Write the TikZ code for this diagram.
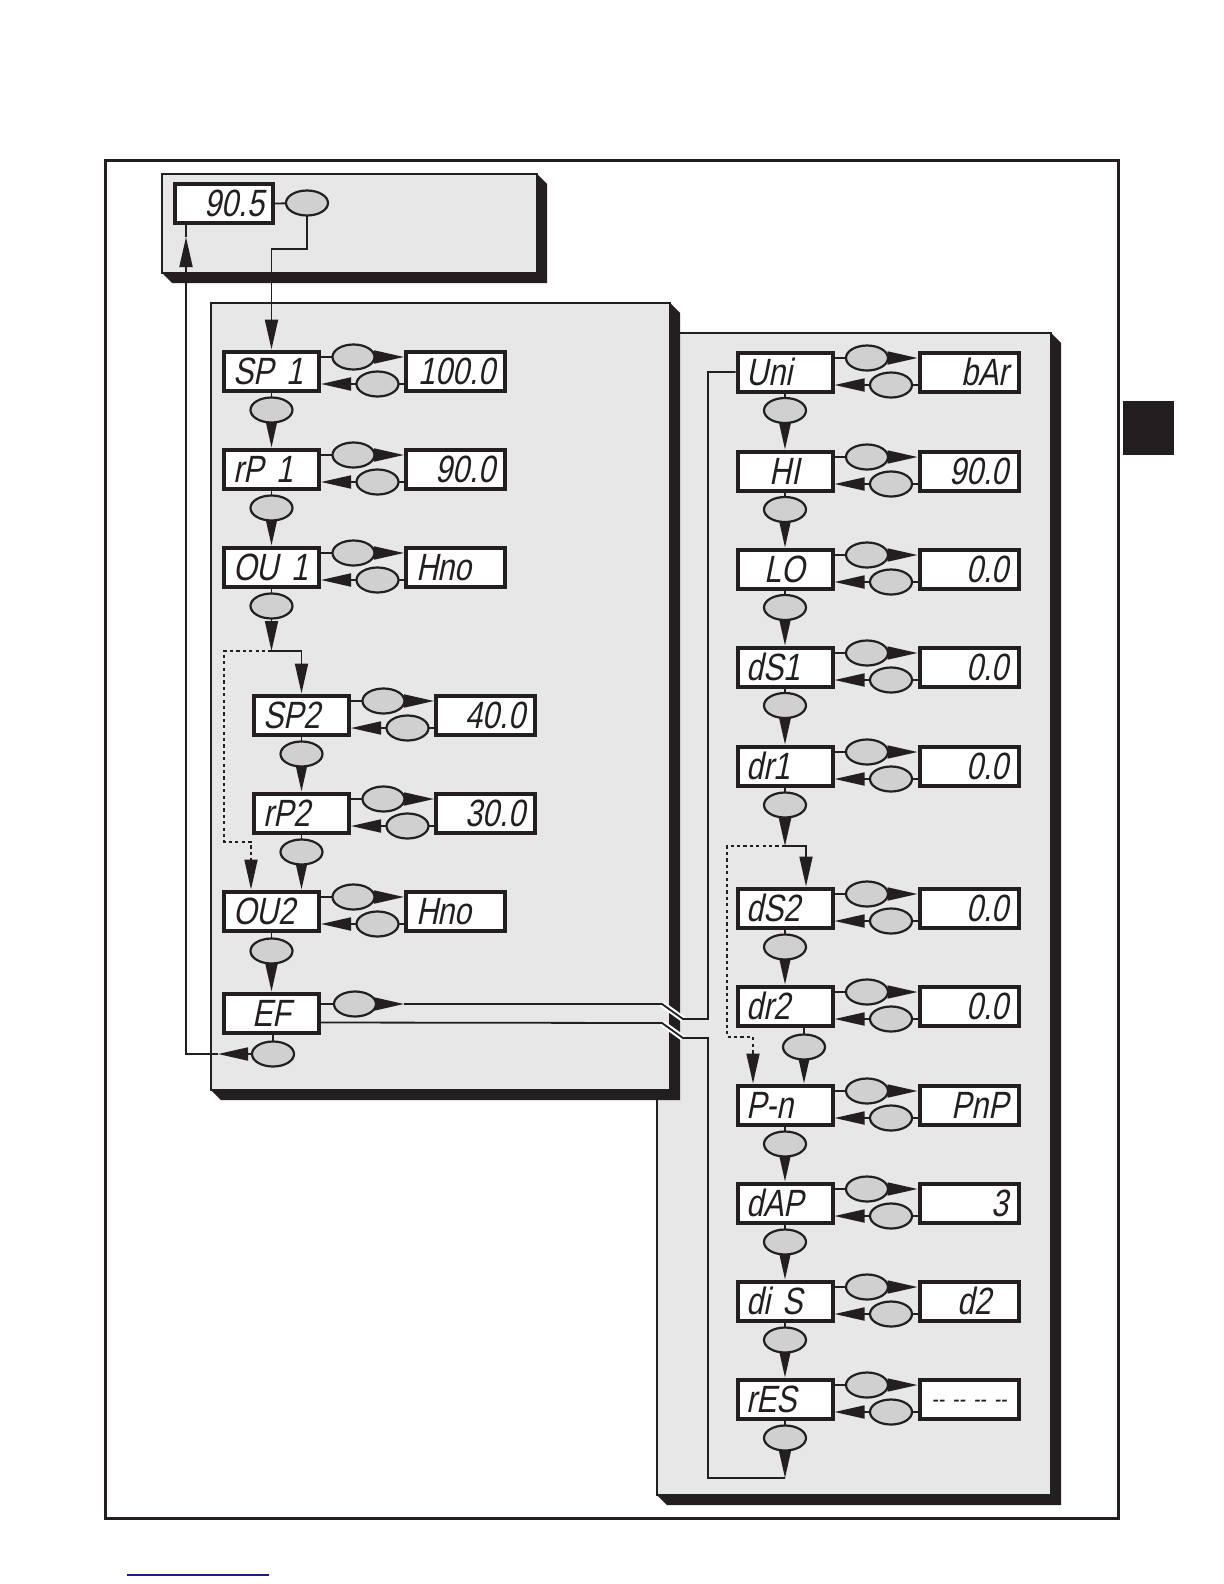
\documentclass[tikz,border=0pt]{standalone}
\usepackage{fontspec}
\usetikzlibrary{arrows.meta,shapes.geometric,calc}
\newfontfamily\lcd{Liberation Sans}[FakeSlant=0.2,FakeStretch=0.8]
\definecolor{ink}{RGB}{35,31,32}
\definecolor{panelgray}{RGB}{231,231,231}
\definecolor{keyfill}{RGB}{208,208,208}
\definecolor{navy}{RGB}{30,30,130}
\pgfdeclarelayer{bg}
\pgfdeclarelayer{wires}
\pgfsetlayers{bg,wires,main}
\tikzset{
  disp/.style={draw=ink, line width=2pt, fill=white, minimum width=47.5pt,
    minimum height=19.5pt, inner xsep=4.5pt, inner ysep=0pt, text width=38.5pt,
    text height=13pt, text depth=0pt, font=\lcd\fontsize{19}{19}\selectfont,
    align=left, text=ink},
  val/.style={disp, minimum width=49.5pt, inner xsep=5pt, text width=39.5pt, align=right},
  vleft/.style={align=left},
  vdash/.style={align=center, text height=8.5pt, font=\lcd\fontsize{12}{12}\selectfont},
  key/.style={ellipse, draw=ink, line width=1.1pt, fill=keyfill,
    minimum width=21pt, minimum height=12.5pt, inner sep=0pt},
  wire/.style={draw=ink, line width=0.9pt},
  dotwire/.style={wire, dash pattern=on 1.6pt off 1.6pt},
  wedgetip/.style={-{Triangle[length=15pt,width=6.5pt]}},
  halo/.style={draw=white, line width=3pt}
}
% a display with its value box and the two side keys
\newcommand\pairrow[7][]{%
  \node[disp,#1] (#2) at (#3,#4) {#5};
  \node[val,#7] (#2v) at ({#3+184},#4) {#6};
  \node[key] (#2a) at ({#3+82},{#4-14}) {};
  \node[key] (#2b) at ({#3+106},{#4+13}) {};
  \begin{pgfonlayer}{wires}
    \draw[wire] (#2.east |- #2a.center) -- (#2a.center);
    \draw[wire,wedgetip] (#2a.center) -- (#2v.west |- #2a.center);
    \draw[wire] (#2v.west |- #2b.center) -- (#2b.center);
    \draw[wire,wedgetip] (#2b.center) -- (#2.east |- #2b.center);
  \end{pgfonlayer}}
% a key below a display, leading to the next display
\newcommand\downkey[4]{%
  \node[key] (#1d) at (#3,#4) {};
  \begin{pgfonlayer}{wires}
    \draw[wire] (#1.south -| #1d.center) -- (#1d.center);
    \draw[wire,wedgetip] (#1d.center) -- (#2.north -| #1d.center);
  \end{pgfonlayer}}
% a panel with its dark extruded shadow
\newcommand\slab[4]{%
  \fill[ink] (#3,#2) -- ({#3+10},{#2+10}) -- ({#3+10},{#4+10}) -- ({#1+10},{#4+10}) -- (#1,#4) -- cycle;
  \filldraw[fill=panelgray,draw=ink,line width=1pt] (#1,#2) rectangle (#3,#4);}
\begin{document}
\begin{tikzpicture}[x=0.5pt,y=-0.5pt]
\useasboundingbox (0,0) rectangle (1224,1584);
\begin{pgfonlayer}{bg}
  \draw[ink,line width=1.5pt] (105,160) rectangle (1118,1518);
  \slab{657}{333}{1051}{1495}
  \slab{211}{303}{670}{1090}
  \slab{162}{174}{537}{273}
  \fill[ink] (1123,401) rectangle (1174,455);
  \draw[navy,line width=0.7pt] (127,1575) -- (269,1575);
\end{pgfonlayer}

% top display
\node[disp,align=right,minimum width=49pt,text width=40pt] (disp0) at (224,203.5) {90.5};
\node[key] (disp0k) at (307,203) {};

% left column
\pairrow{sp1}{271.5}{371}{SP 1}{100.0}{}
\pairrow{rp1}{271.5}{469}{rP 1}{90.0}{}
\pairrow{ou1}{271.5}{567}{OU 1}{Hno}{vleft}
\pairrow{sp2}{301.5}{715}{SP2}{40.0}{}
\pairrow{rp2}{301.5}{813}{rP2}{30.0}{}
\pairrow{ou2}{271.5}{911}{OU2}{Hno}{vleft}
\node[disp,align=center] (ef) at (271.5,1013) {EF};
\node[key] (efa) at (355,1004) {};
\node[key] (efd) at (273,1054) {};

\downkey{sp1}{rp1}{271.5}{410}
\downkey{rp1}{ou1}{271.5}{508}
\node[key] (ou1d) at (271.5,606) {};
\downkey{sp2}{rp2}{301.5}{754}
\downkey{rp2}{ou2}{301.5}{852}
\downkey{ou2}{ef}{271.5}{951}

% right column
\pairrow{uni}{785}{372}{Uni}{bAr}{}
\pairrow[align=center]{hi}{785}{471}{HI}{90.0}{}
\pairrow[align=center]{lo}{785}{569}{LO}{0.0}{}
\pairrow{ds1}{785}{667}{dS1}{0.0}{}
\pairrow{dr1}{785}{766}{dr1}{0.0}{}
\pairrow{ds2}{785}{908}{dS2}{0.0}{}
\pairrow{dr2}{785}{1006}{dr2}{0.0}{}
\pairrow{pn}{785}{1105}{P-n}{PnP}{}
\pairrow{dap}{785}{1203}{dAP}{3}{}
\pairrow{dis}{785}{1301}{di S}{d2\hphantom{0}}{}
\pairrow{res}{785}{1399}{rES}{\mbox{-- -- -- --}}{vdash}

\downkey{uni}{hi}{785}{410.5}
\downkey{hi}{lo}{785}{509.5}
\downkey{lo}{ds1}{785}{607.5}
\downkey{ds1}{dr1}{785}{705.5}
\node[key] (dr1d) at (785,805) {};
\downkey{ds2}{dr2}{785}{947}
\downkey{dr2}{pn}{804}{1047}
\downkey{pn}{dap}{785}{1144}
\downkey{dap}{dis}{785}{1242}
\downkey{dis}{res}{785}{1340}
\node[key] (resd) at (785,1438) {};

% junction and bend points
\coordinate (t1) at (307,249);
\coordinate (j1) at (271.5,651);
\coordinate (j1a) at (224,651);
\coordinate (j1b) at (224,842);
\coordinate (j1c) at (251,842);
\coordinate (j1d) at (251,858);
\coordinate (j2) at (785,846);
\coordinate (k2) at (806,846);
\coordinate (j2a) at (727,846);
\coordinate (j2b) at (727,1037);
\coordinate (j2c) at (753,1037);
\coordinate (j2d) at (753,1053);
\coordinate (r1) at (218,1054);
\coordinate (r2) at (186,1054);
\coordinate (r3) at (186,237);
\coordinate (e1) at (404,1004);
\coordinate (e2) at (662,1004);
\coordinate (e3) at (683,1019);
\coordinate (e4) at (708,1019);
\coordinate (g1) at ($(ef.east)+(0,9.5)$);
\coordinate (g2) at (662,1023);
\coordinate (g3) at (683,1038);
\coordinate (g4) at (708,1038);
\coordinate (g5) at (708,1478);
\coordinate (f5) at (785,1478);

\begin{pgfonlayer}{wires}
  % top display to SP 1
  \draw[wire] (disp0.east) -- (disp0k.center);
  \draw[wire,wedgetip] (disp0k.center) -- (t1) -| (sp1.north);
  % OU 1 branch
  \draw[wire] (ou1.south -| ou1d.center) -- (ou1d.center);
  \draw[wire,wedgetip] (ou1d.center) -- (j1);
  \draw[wire,wedgetip] (j1) -| (sp2.north);
  \draw[dotwire] (j1) -- (j1a) -- (j1b) -- (j1c) -- (j1d);
  \draw[wire,wedgetip] (j1d) -- (ou2.north -| j1d);
  % dr1 branch
  \draw[wire] (dr1.south -| dr1d.center) -- (dr1d.center);
  \draw[wire,wedgetip] (dr1d.center) -- (j2);
  \draw[wire,wedgetip] (j2) -- (k2) -- (ds2.north -| k2);
  \draw[dotwire] (j2) -- (j2a) -- (j2b) -- (j2c) -- (j2d);
  \draw[wire,wedgetip] (j2d) -- (pn.north -| j2d);
  % EF keys
  \draw[wire] (ef.east |- efa.center) -- (efa.center);
  \draw[wire] (ef.south -| efd.center) -- (efd.center);
  \draw[wire,wedgetip] (efd.center) -- (r1);
  \draw[wire,wedgetip] (r1) -- (r2) -- (r3);
  \draw[wire] (r3) -- (disp0.south -| r3);
  \draw[wire,wedgetip] (efa.center) -- (e1);
  \draw[halo] (e2) -- (e3);
  \draw[wire] (e1) -- (e2) -- (e3) -- (e4) |- (uni.west);
  \draw[halo] (g2) -- (g3);
  \draw[wire] (g1) -- (g2) -- (g3) -- (g4) -- (g5) -- (f5);
  \draw[wire] (res.south -| resd.center) -- (resd.center);
  \draw[wire,wedgetip] (resd.center) -- (f5);
\end{pgfonlayer}
\end{tikzpicture}
\end{document}
